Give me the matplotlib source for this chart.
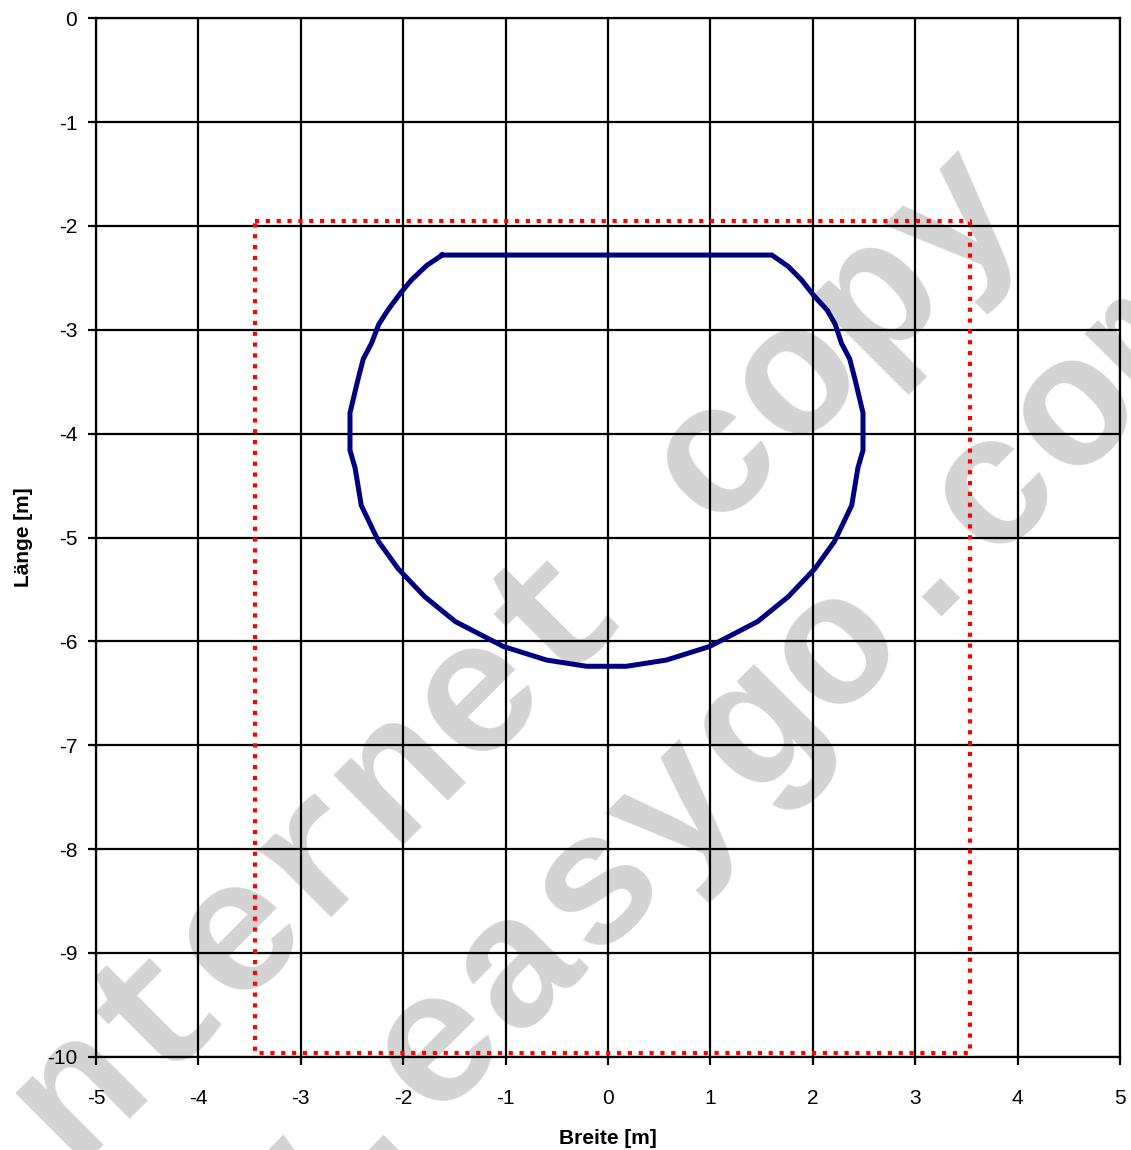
import matplotlib
matplotlib.use('Agg')
import matplotlib.pyplot as plt

# --- data ---
# tunnel profile (closed outline, clockwise from top-left corner)
profil_x = [-1.62, 1.60, 1.76, 1.89, 2.01, 2.14, 2.22, 2.28, 2.36, 2.41, 2.49,
            2.49, 2.44, 2.38, 2.21, 2.02, 1.76, 1.46, 0.99, 0.57, 0.18,
            -0.21, -0.60, -1.02, -1.49, -1.79, -2.05, -2.24, -2.41, -2.47, -2.52,
            -2.52, -2.44, -2.39, -2.31, -2.24, -2.15, -2.03, -1.92, -1.77, -1.62]
profil_y = [-2.28, -2.28, -2.39, -2.52, -2.67, -2.81, -2.95, -3.13, -3.28, -3.47, -3.80,
            -4.16, -4.33, -4.69, -5.04, -5.30, -5.57, -5.81, -6.05, -6.18, -6.24,
            -6.24, -6.18, -6.05, -5.81, -5.57, -5.30, -5.04, -4.69, -4.33, -4.16,
            -3.80, -3.47, -3.28, -3.13, -2.95, -2.81, -2.65, -2.52, -2.38, -2.28]

# bounding rectangle (dotted red)
rahmen_x = [-3.45, 3.53, 3.53, -3.45, -3.45]
rahmen_y = [-1.95, -1.95, -9.96, -9.96, -1.95]

x_ticks = [-5, -4, -3, -2, -1, 0, 1, 2, 3, 4, 5]
y_ticks = [0, -1, -2, -3, -4, -5, -6, -7, -8, -9, -10]

WATERMARK_1 = "internet copy"
WATERMARK_2 = "www.easygo.com"

# --- style ---
NAVY = "#000080"
RED = "#FF0000"
GREY_WM = "#D3D3D3"

plt.rcParams['font.family'] = ['Liberation Sans', 'DejaVu Sans']

fig = plt.figure(figsize=(11.31, 11.5), dpi=100, facecolor='white')
ax = fig.add_axes([0.0849, 0.0811, 0.9054, 0.9030])
ax.set_facecolor('none')

# watermark behind everything, on figure level (cut at the edges like the original)
fig.text(480 / 1131, 1 - 700 / 1150, WATERMARK_1, rotation=45, rotation_mode='anchor',
         ha='center', va='center', fontsize=135, fontweight='bold',
         family='Liberation Mono', color=GREY_WM, zorder=-10)
fig.text(640 / 1131, 1 - 850 / 1150, WATERMARK_2, rotation=45, rotation_mode='anchor',
         ha='center', va='center', fontsize=135, fontweight='bold',
         family='Liberation Mono', color=GREY_WM, zorder=-10)

ax.plot(rahmen_x, rahmen_y, color=RED, lw=3, linestyle=(0, (1, 1.6)),
        dash_capstyle='butt', zorder=3)
ax.plot(profil_x, profil_y, color=NAVY, lw=3.6, solid_joinstyle='miter', zorder=4)

ax.set_xlim(-5, 5)
ax.set_ylim(-10, 0)
ax.set_xticks(x_ticks)
ax.set_yticks(y_ticks)
ax.set_xticklabels([str(v) for v in x_ticks])
ax.set_yticklabels([str(v) for v in y_ticks])
ax.grid(True, color='black', lw=1.6)
ax.set_axisbelow(True)
for s in ax.spines.values():
    s.set_linewidth(1.6)
    s.set_color('black')
ax.tick_params(direction='out', length=5.5, width=1.6, labelsize=15)
ax.tick_params(axis='x', pad=18)
ax.tick_params(axis='y', pad=8)

ax.set_xlabel("Breite [m]", fontsize=15, fontweight='bold')
ax.set_ylabel("Länge [m]", fontsize=15, fontweight='bold')
ax.xaxis.label.set_va('center')
ax.yaxis.label.set_va('center')
ax.xaxis.set_label_coords(0.5, -0.079)
ax.yaxis.set_label_coords(-0.071, 0.5)

fig.savefig("out.png", dpi=100, facecolor='white')
